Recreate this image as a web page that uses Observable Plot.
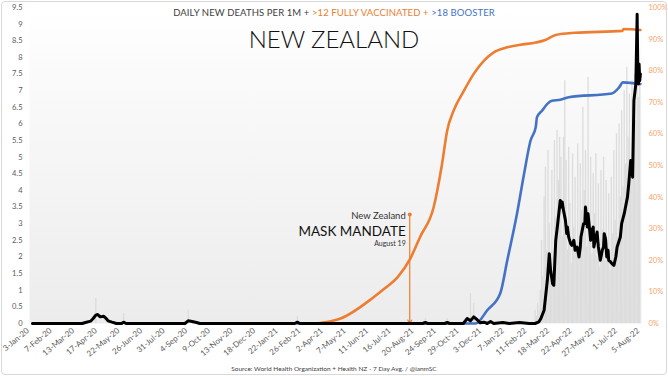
<!DOCTYPE html>
<html><head><meta charset="utf-8">
<script src="https://cdn.jsdelivr.net/npm/d3@7"></script>
<script src="https://cdn.jsdelivr.net/npm/@observablehq/plot@0.6"></script>
<style>
html,body{margin:0;padding:0;background:#fff;}
#wrap{position:relative;width:668px;height:376px;overflow:hidden;font-family:Lato,"Open Sans",sans-serif;}
#border{position:absolute;left:1px;top:1px;width:666px;height:374px;border:1px solid #d9d9d9;border-radius:4px;box-sizing:border-box;pointer-events:none;}
#chart{position:absolute;left:0;top:0;}
#title{position:absolute;left:0;top:7px;width:668px;text-align:center;font-size:9.5px;line-height:12px;color:#404040;letter-spacing:0.1px;}
#name{position:absolute;left:0;top:24px;width:668px;text-align:center;font-size:24px;line-height:30px;color:#111;font-weight:300;}
#caption{position:absolute;left:0;top:365px;width:668px;text-align:center;font-size:6.5px;line-height:8px;color:#404040;}
</style></head>
<body>
<div id="wrap">
  <div id="chart"></div>
  <div id="title">DAILY NEW DEATHS PER 1M + <span style="color:#ED7D31">&gt;12 FULLY VACCINATED + </span><span style="color:#4472C4">&gt;18 BOOSTER</span></div>
  <div id="name">NEW ZEALAND</div>
  <div id="caption">Source: World Health Organization + Health NZ - 7 Day Avg. / @ianmSC</div>
  <div id="border"></div>
</div>
<script>
// ---- Tick labels ----
const tickLabels = ["3-Jan-20","7-Feb-20","13-Mar-20","17-Apr-20","22-May-20","26-Jun-20","31-Jul-20","4-Sep-20","9-Oct-20","13-Nov-20","18-Dec-20","22-Jan-21","26-Feb-21","2-Apr-21","7-May-21","11-Jun-21","16-Jul-21","20-Aug-21","24-Sep-21","29-Oct-21","3-Dec-21","7-Jan-22","11-Feb-22","18-Mar-22","22-Apr-22","27-May-22","1-Jul-22","5-Aug-22"];
const yTicks = [0,0.5,1,1.5,2,2.5,3,3.5,4,4.5,5,5.5,6,6.5,7,7.5,8,8.5,9,9.5];
const pctTicks = [0,10,20,30,40,50,60,70,80,90,100];

// ---- Daily new deaths per 1M (7-day avg) [date, value] ----
const deathSeries = [
 ["2020-01-13",0],["2020-03-30",0],["2020-04-04",0.03],["2020-04-12",0.07],["2020-04-16",0.15],["2020-04-20",0.25],["2020-04-23",0.27],["2020-04-27",0.2],["2020-05-02",0.22],["2020-05-05",0.17],["2020-05-09",0.08],["2020-05-15",0.04],["2020-05-22",0],["2020-05-30",0],["2020-06-02",0.04],["2020-06-06",0],
 ["2020-09-05",0],["2020-09-10",0.08],["2020-09-16",0.06],["2020-09-23",0.03],["2020-09-28",0],
 ["2021-02-22",0],["2021-02-26",0.04],["2021-03-02",0],["2021-09-08",0],["2021-09-12",0.03],["2021-09-16",0],["2021-10-12",0],["2021-10-16",0.03],["2021-10-20",0],
 ["2021-11-10",0],["2021-11-16",0.15],["2021-11-21",0.08],["2021-11-26",0.2],["2021-12-01",0.12],["2021-12-06",0.02],["2021-12-12",0.04],["2021-12-17",0],["2021-12-22",0.06],["2021-12-27",0],["2022-01-10",0.03],["2022-01-20",0],["2022-02-05",0.03],["2022-02-20",0],
 ["2022-03-01",0],["2022-03-07",0.05],["2022-03-10",0.15],["2022-03-15",0.4],["2022-03-20",1.3],["2022-03-23",2.1],["2022-03-25",1.6],["2022-03-28",1.2],["2022-03-30",1.15],["2022-04-02",2.5],["2022-04-05",3.0],["2022-04-09",3.7],["2022-04-11",3.5],["2022-04-12",3.65],["2022-04-14",3.4],["2022-04-17",3.1],["2022-04-19",2.7],["2022-04-20",2.9],["2022-04-22",2.6],["2022-04-25",2.4],["2022-04-27",2.35],["2022-04-30",2.5],
 ["2022-05-02",2.2],["2022-05-05",2.3],["2022-05-08",2.0],["2022-05-10",2.3],["2022-05-11",2.6],["2022-05-13",2.8],["2022-05-15",3.0],["2022-05-17",3.0],["2022-05-18",3.5],["2022-05-19",3.3],["2022-05-21",2.9],["2022-05-22",3.3],["2022-05-23",3.1],["2022-05-26",2.5],["2022-05-28",2.8],["2022-05-30",2.9],["2022-05-31",2.3],
 ["2022-06-01",2.4],["2022-06-03",2.6],["2022-06-05",2.75],["2022-06-07",2.3],["2022-06-10",1.9],["2022-06-13",2.2],["2022-06-15",2.3],["2022-06-16",2.7],["2022-06-18",2.55],["2022-06-20",2.0],["2022-06-22",2.2],["2022-06-23",1.9],["2022-06-26",1.85],["2022-06-28",1.8],
 ["2022-07-01",1.75],["2022-07-04",2.0],["2022-07-06",2.3],["2022-07-11",2.6],["2022-07-13",3.0],["2022-07-17",3.3],["2022-07-22",3.8],["2022-07-24",4.2],["2022-07-27",4.9],["2022-07-30",4.4],
 ["2022-08-01",6.7],["2022-08-04",7.2],["2022-08-06",9.3],["2022-08-07",7.6],["2022-08-08",7.2],["2022-08-09",7.8],["2022-08-10",7.3],["2022-08-11",7.5]
];

// ---- >12 fully vaccinated (%) ----
const vaxSeries = [
 ["2021-03-23",0],["2021-04-10",0.4],["2021-05-04",1.6],["2021-06-24",8.3],["2021-07-12",11.2],["2021-07-31",14.6],["2021-08-20",20.6],["2021-09-04",27.4],["2021-09-25",36.8],["2021-10-08",50.5],["2021-10-16",61.1],["2021-10-26",67.4],["2021-11-11",73.7],["2021-11-26",79.0],["2021-12-12",83.2],["2021-12-27",85.8],["2022-01-17",87.4],["2022-02-06",88.2],["2022-03-02",88.9],["2022-03-17",89.7],["2022-04-02",91.3],["2022-05-02",92.0],["2022-07-14",92.6],["2022-07-16",93.2],["2022-08-11",92.9]
];

// ---- >18 booster (%) ----
const boostSeries = [
 ["2021-02-26",0],["2021-11-29",0],["2021-12-17",4.2],["2022-01-06",9.5],["2022-01-17",20.0],["2022-02-01",34.7],["2022-02-12",47.4],["2022-02-22",57.9],["2022-03-02",62.1],["2022-03-04",65.3],["2022-03-12",67.4],["2022-03-20",69.5],["2022-03-27",70.5],["2022-04-09",70.8],["2022-04-22",71.6],["2022-06-28",72.8],["2022-07-09",74.7],["2022-07-15",76.3],["2022-08-11",75.8]
];

// ---- raw daily deaths per 1M (light grey bars) ----
const rawSeries = [
 ["2020-04-20",0.75],["2020-06-02",0.3],["2020-09-10",0.4],["2021-02-26",0.2],["2021-09-12",0.15],["2021-10-16",0.15],["2021-11-21",0.9],["2021-11-26",0.6],
 ["2022-03-01",0.4],["2022-03-03",0.2],["2022-03-05",0.6],["2022-03-07",0.4],["2022-03-09",1.0],["2022-03-11",2.5],["2022-03-13",1.4],["2022-03-15",3.8],["2022-03-17",4.7],["2022-03-19",2.2],["2022-03-21",5.2],["2022-03-23",3.0],["2022-03-25",1.2],["2022-03-27",4.6],["2022-03-29",2.0],["2022-03-31",5.5],
 ["2022-04-02",3.2],["2022-04-04",5.8],["2022-04-06",4.3],["2022-04-08",5.6],["2022-04-10",5.0],["2022-04-12",2.6],["2022-04-14",5.6],["2022-04-16",7.3],["2022-04-18",4.9],["2022-04-20",2.2],["2022-04-22",5.3],["2022-04-24",3.6],["2022-04-26",1.8],["2022-04-28",5.1],["2022-04-30",2.9],
 ["2022-05-02",4.4],["2022-05-04",2.4],["2022-05-06",5.4],["2022-05-08",1.9],["2022-05-10",4.8],["2022-05-12",3.4],["2022-05-14",6.5],["2022-05-16",4.0],["2022-05-18",5.2],["2022-05-20",2.3],["2022-05-22",7.4],["2022-05-24",3.0],["2022-05-26",5.0],["2022-05-28",2.1],["2022-05-30",4.5],
 ["2022-06-01",3.3],["2022-06-03",5.1],["2022-06-05",2.0],["2022-06-07",4.2],["2022-06-09",1.7],["2022-06-11",4.6],["2022-06-13",2.8],["2022-06-15",5.0],["2022-06-17",1.9],["2022-06-19",4.3],["2022-06-21",2.5],["2022-06-23",3.9],["2022-06-25",1.6],["2022-06-27",4.4],["2022-06-29",2.7],
 ["2022-07-01",5.2],["2022-07-03",3.1],["2022-07-05",5.7],["2022-07-07",2.6],["2022-07-09",6.0],["2022-07-11",3.8],["2022-07-13",6.4],["2022-07-15",4.1],["2022-07-17",7.0],["2022-07-19",4.8],["2022-07-21",7.7],["2022-07-23",5.6],["2022-07-25",6.9],["2022-07-27",4.9],["2022-07-29",7.3],["2022-07-31",5.8],
 ["2022-08-02",7.5],["2022-08-04",6.1],["2022-08-06",9.0],["2022-08-08",6.8],["2022-08-10",7.2]
];

// ---- annotation ----
const mandateDate = "2021-08-19";
const mandateTop = 3.28;
const mandateLines = [
  {t: "New Zealand", y: 3.22, size: 9.5, fill: "#333"},
  {t: "MASK MANDATE", y: 2.77, size: 13.5, fill: "#111"},
  {t: "August 19", y: 2.41, size: 7, fill: "#333"}
];

// ---- build tables ----
const parseTick = d3.utcParse("%-d-%b-%y");
const tickDates = tickLabels.map(parseTick);
const deaths = deathSeries.map(([d, v]) => ({date: new Date(d), v}));
const vax = vaxSeries.map(([d, p]) => ({date: new Date(d), p}));
const boost = boostSeries.map(([d, p]) => ({date: new Date(d), p}));
const raw = rawSeries.map(([d, v]) => ({date: new Date(d), v}));
const mandate = [{date: new Date(mandateDate), top: mandateTop}];
const annots = mandateLines.map(a => ({...a, date: new Date(mandateDate)}));
const yMax = yTicks[yTicks.length - 1];
const pctToY = p => p * yMax / 100;

const ORANGE = "#ED7D31", BLUE = "#4472C4";

const chart = Plot.plot({
  width: 668, height: 376,
  marginLeft: 29, marginRight: 27, marginTop: 7, marginBottom: 53,
  style: {fontFamily: "Lato, 'Open Sans', sans-serif", fontSize: "8px", color: "#595959", background: "transparent"},
  x: {type: "utc", domain: [tickDates[0], tickDates[tickDates.length - 1]], range: [25.5, 636]},
  y: {domain: [0, yMax]},
  marks: [
    Plot.frame({fill: "#eeeeee", stroke: null}),
    Plot.ruleX(raw, {x: "date", y1: 0, y2: "v", stroke: "#dcdcdc", strokeWidth: 1.3}),
    Plot.line(boost, {x: "date", y: d => pctToY(d.p), stroke: BLUE, strokeWidth: 2.6, curve: "monotone-x"}),
    Plot.line(vax, {x: "date", y: d => pctToY(d.p), stroke: ORANGE, strokeWidth: 2.6, curve: "monotone-x"}),
    Plot.arrow(mandate, {x1: "date", x2: "date", y1: "top", y2: 0, stroke: ORANGE, strokeWidth: 1.2, headLength: 5}),
    Plot.dot(mandate, {x: "date", y: "top", r: 2, fill: ORANGE}),
    Plot.line(deaths, {x: "date", y: "v", stroke: "#000", strokeWidth: 3, strokeLinejoin: "round"}),
    ...annots.map(a => Plot.text([a], {x: "date", y: "y", text: "t", textAnchor: "end", dx: -4, fontSize: a.size, fill: a.fill})),
    Plot.axisY(yTicks, {anchor: "left", tickSize: 0, tickPadding: 7, tickFormat: d => String(d), fill: "#595959", fontSize: 7.5, label: null}),
    Plot.axisY(pctTicks.map(pctToY), {anchor: "right", tickSize: 0, tickPadding: 7, tickFormat: d => Math.round(d / yMax * 100) + "%", fill: "#F4A46A", fontSize: 7.5, label: null}),
    Plot.axisX(tickDates, {anchor: "bottom", tickSize: 0, tickPadding: 6, dx: 2, tickRotate: -40, tickFormat: d3.utcFormat("%-d-%b-%y"), fill: "#595959", label: null})
  ]
});
document.getElementById("chart").appendChild(chart);

// gradient background for the plot panel
const svg = d3.select(chart.tagName.toLowerCase() === "svg" ? chart : chart.querySelector("svg"));
const defs = svg.insert("defs", ":first-child");
const g = defs.append("linearGradient").attr("id", "bg").attr("x1", 0).attr("y1", 0).attr("x2", 0).attr("y2", 1);
g.append("stop").attr("offset", "0").attr("stop-color", "#ffffff");
g.append("stop").attr("offset", "0.18").attr("stop-color", "#fbfbfb");
g.append("stop").attr("offset", "1").attr("stop-color", "#ececec");
let fr = svg.node().querySelector('[aria-label="frame"]');
if (fr && fr.tagName.toLowerCase() !== "rect") fr = fr.querySelector("rect");
if (fr) fr.setAttribute("fill", "url(#bg)");
</script>
</body></html>
